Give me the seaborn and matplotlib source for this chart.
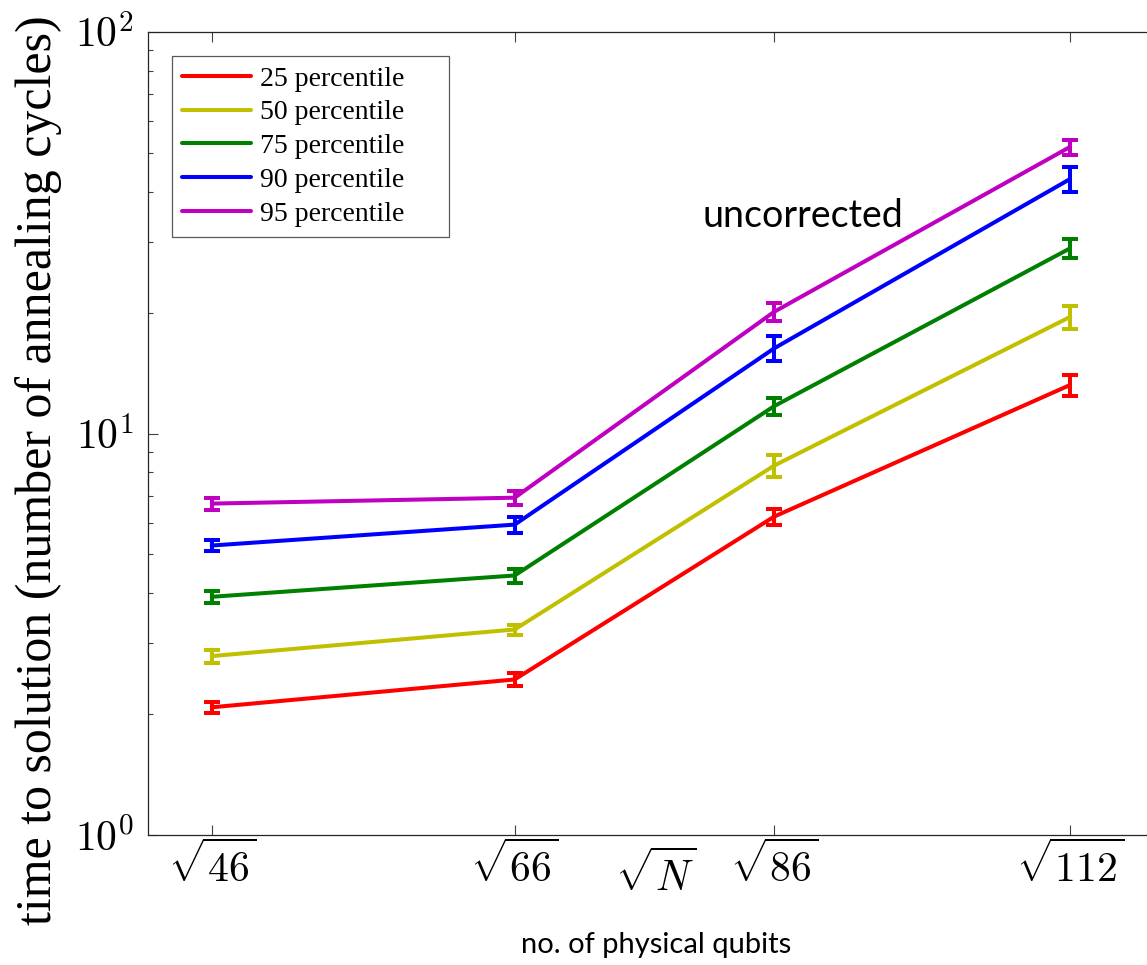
import seaborn as sns
import matplotlib.pyplot as plt
import numpy as np
import pandas as pd

# data
qubits = [46, 66, 86, 112]
labels = ['25 percentile', '50 percentile', '75 percentile', '90 percentile', '95 percentile']
colors = ['#FF0000', '#C0C000', '#008000', '#0000FF', '#C000C0']

p25 = [2.08, 2.44, 6.21, 13.2]
p50 = [2.79, 3.25, 8.32, 19.5]
p75 = [3.92, 4.43, 11.7, 28.9]
p90 = [5.26, 5.93, 16.3, 43.0]
p95 = [6.69, 6.92, 20.1, 51.7]

err25 = [0.063, 0.094, 0.28, 0.82]
err50 = [0.107, 0.093, 0.54, 1.31]
err75 = [0.142, 0.178, 0.56, 1.53]
err90 = [0.175, 0.265, 1.17, 3.09]
err95 = [0.223, 0.266, 1.06, 2.23]

series = [p25, p50, p75, p90, p95]
errors = [err25, err50, err75, err90, err95]

sqrt_n = np.sqrt(qubits)
frames = []
for lab, vals, errs in zip(labels, series, errors):
    frames.append(pd.DataFrame({'sqrtN': sqrt_n, 'tts': vals, 'err': errs, 'pct': lab}))
df = pd.concat(frames, ignore_index=True)

sns.set_style('ticks')
plt.rcParams['font.family'] = ['Liberation Serif', 'DejaVu Serif']
plt.rcParams['mathtext.fontset'] = 'cm'
plt.rcParams['xtick.direction'] = 'in'
plt.rcParams['ytick.direction'] = 'in'
plt.rcParams['text.color'] = 'black'
plt.rcParams['axes.labelcolor'] = 'black'
plt.rcParams['xtick.labelcolor'] = 'black'
plt.rcParams['ytick.labelcolor'] = 'black'

fig = plt.figure(figsize=(11.47, 9.65), dpi=100)
ax = fig.add_axes([148 / 1147, 130 / 965, 1016 / 1147, 803 / 965])

sns.lineplot(data=df, x='sqrtN', y='tts', hue='pct', palette=dict(zip(labels, colors)),
             linewidth=2.9, ax=ax, legend=False)
handles = list(ax.get_lines()[:5])

for lab, c in zip(labels, colors):
    d = df[df['pct'] == lab]
    ax.errorbar(d['sqrtN'], d['tts'], yerr=d['err'], fmt='none', ecolor=c,
                elinewidth=2.9, capsize=6, capthick=2.9)

ax.set_yscale('log')
ax.set_ylim(1, 100)
ax.set_xlim(6.5, 11)
ax.set_xticks(sqrt_n)
ax.set_xticklabels([r'$\sqrt{%d}$' % q for q in qubits], fontsize=30)
ax.set_yticks([1, 10, 100])
ax.set_yticklabels([r'$10^{0}$', r'$10^{1}$', r'$10^{2}$'], fontsize=30)
ax.tick_params(axis='both', which='major', length=7, width=0.8, color='0.25', top=True, right=True)
ax.tick_params(axis='y', which='minor', length=3.5, width=0.8, color='0.25', right=True)
ax.tick_params(axis='x', pad=5)
ax.tick_params(axis='y', pad=10)
for s in ax.spines.values():
    s.set_linewidth(0.9)
    s.set_color('0.15')

ax.set_xlabel('')
ax.set_ylabel('time to solution (number of annealing cycles)', fontsize=36)
ax.yaxis.set_label_coords(-0.085, 0.455)

ax.text(0.5, -0.051, r'$\sqrt{N}$', transform=ax.transAxes, ha='center', va='center', fontsize=30)
ax.text(0.645, 0.757, 'uncorrected', transform=ax.transAxes, ha='center', va='baseline',
        fontsize=27, family='Lato')
fig.text(656 / 1147, 0.021, 'no. of physical qubits', ha='center', va='center',
         fontsize=21, family='Lato')

leg = ax.legend(handles, labels, loc='upper left', bbox_to_anchor=(0.0236, 0.749, 0.273, 0.221),
                mode='expand', fontsize=20, frameon=True, fancybox=False, framealpha=1,
                edgecolor='0.35', handlelength=2.5, handletextpad=0.3, labelspacing=0.3,
                borderpad=0.36, borderaxespad=0)
leg.get_frame().set_linewidth(0.9)

fig.savefig('out.png', dpi=100)
